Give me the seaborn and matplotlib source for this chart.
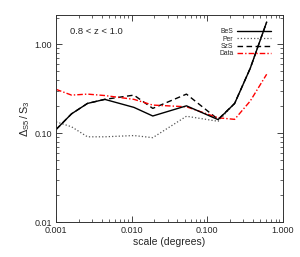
import numpy as np
import pandas as pd
import matplotlib
matplotlib.use("Agg")
import matplotlib.pyplot as plt
import seaborn as sns
from matplotlib.ticker import FormatStrFormatter, LogLocator

# values
scale = [0.001, 0.0016, 0.0026, 0.0044, 0.0107, 0.019, 0.053, 0.139, 0.23, 0.37, 0.61]
bes  = [0.110, 0.165, 0.216, 0.240, 0.195, 0.156, 0.203, 0.142, 0.216, 0.537, 1.78]
per  = [0.134, 0.118, 0.091, 0.091, 0.094, 0.089, 0.155, 0.136, 0.216, 0.537, 1.78]
szs  = [0.110, 0.165, 0.216, 0.240, 0.268, 0.190, 0.275, 0.143, 0.216, 0.537, 1.78]
data = [0.311, 0.268, 0.275, 0.265, 0.240, 0.207, 0.198, 0.149, 0.143, 0.230, 0.46]

sns.set_style("ticks")
plt.rcParams['font.family'] = ['Liberation Sans', 'DejaVu Sans']
plt.rcParams['mathtext.fontset'] = 'custom'
plt.rcParams['mathtext.rm'] = 'Liberation Sans'
plt.rcParams['mathtext.it'] = 'Liberation Sans'

df = pd.DataFrame({"scale": scale, "BeS": bes, "Per": per, "SzS": szs, "Data": data})

fig = plt.figure(figsize=(3.0, 2.57), dpi=100)
ax = fig.add_axes([0.187, 0.136, 0.756, 0.806])

styles = {
    "BeS": dict(color="black", linestyle="-", linewidth=1.0),
    "Per": dict(color="#555555", linestyle=":", linewidth=0.9),
    "SzS": dict(color="black", linestyle=(0, (4, 2.5)), linewidth=1.0),
    "Data": dict(color="red", linestyle=(0, (4, 1.5, 1, 1.5)), linewidth=1.0),
}
for name in ["Per", "SzS", "Data", "BeS"]:
    sns.lineplot(data=df, x="scale", y=name, ax=ax, label=name, **styles[name])

ax.set_xscale("log")
ax.set_yscale("log")
ax.set_xlim(0.001, 1.0)
ax.set_ylim(0.01, 2.14)
ax.set_xticks([0.001, 0.01, 0.1, 1.0])
ax.set_yticks([0.01, 0.1, 1.0])
ax.xaxis.set_major_formatter(FormatStrFormatter("%.3f"))
ax.yaxis.set_major_formatter(FormatStrFormatter("%.2f"))
ax.xaxis.set_minor_locator(LogLocator(base=10, subs=np.arange(2, 10)))
ax.yaxis.set_minor_locator(LogLocator(base=10, subs=np.arange(2, 10)))
ax.tick_params(which="both", direction="in", top=True, right=True, labelsize=6.5, pad=3)
ax.tick_params(which="major", length=4, width=0.6)
ax.tick_params(which="minor", length=2, width=0.5)
for s in ax.spines.values():
    s.set_linewidth(0.7)
    s.set_color("#333333")

ax.set_xlabel("scale (degrees)", fontsize=7.5, labelpad=1)
ax.set_ylabel(r"$\Delta_{S5}\,/\,S_3$", fontsize=7.8, labelpad=2)
ax.text(0.06, 0.91, "0.8 < z < 1.0", transform=ax.transAxes, fontsize=6.8)

h, l = ax.get_legend_handles_labels()
order = [l.index(n) for n in ["BeS", "Per", "SzS", "Data"]]
ax.legend([h[i] for i in order], [l[i] for i in order], loc="upper right",
          bbox_to_anchor=(0.965, 0.955), frameon=False, markerfirst=False,
          fontsize=4.9, handlelength=5.0, labelspacing=0.05, handletextpad=0.5,
          borderaxespad=0.2)

fig.savefig("out.png", dpi=100)
